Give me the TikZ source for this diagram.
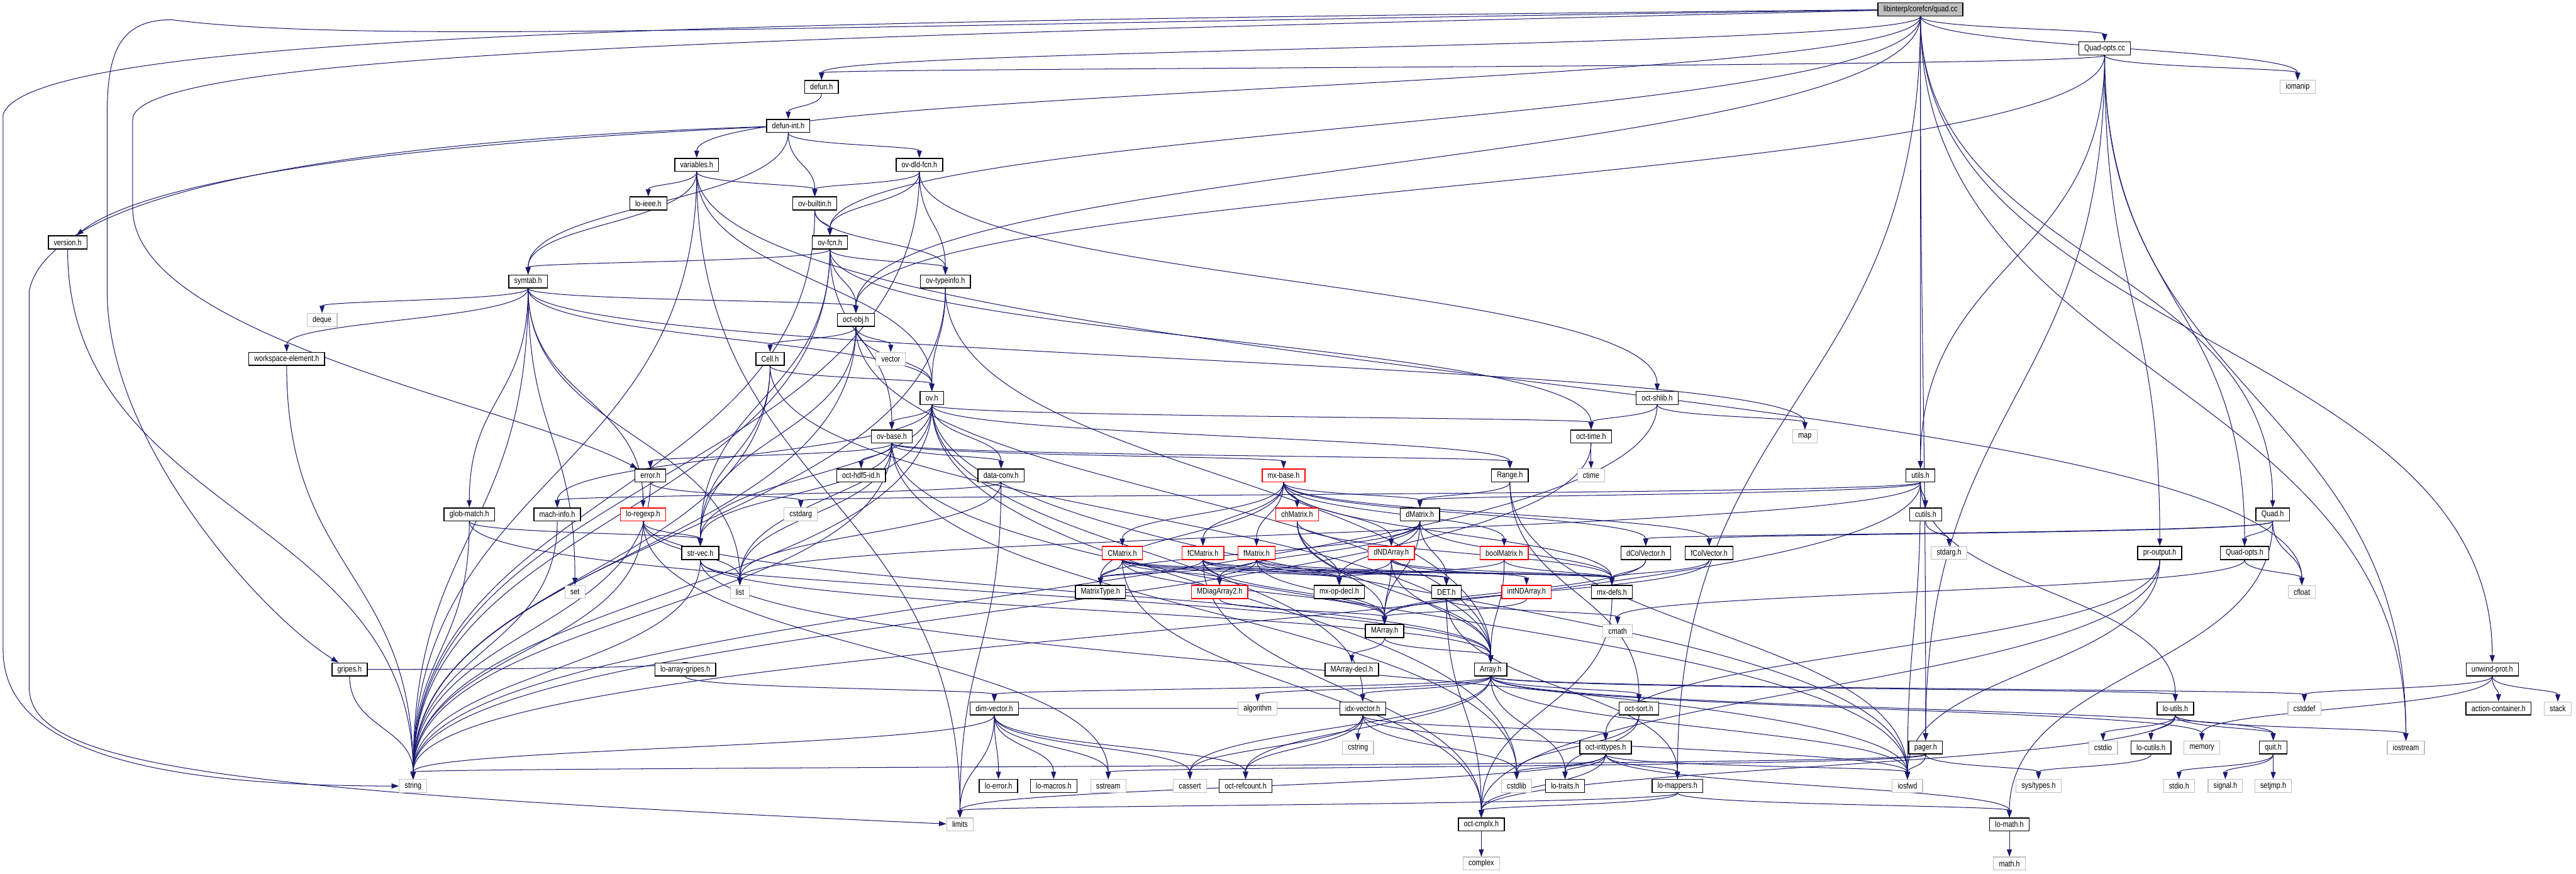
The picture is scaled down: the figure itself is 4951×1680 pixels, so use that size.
\documentclass[tikz,border=0pt]{standalone}
\usepackage{fontspec}
\newfontfamily\graphfont{Liberation Sans}[FakeStretch=0.83]
\usetikzlibrary{arrows.meta,calc}
\definecolor{depblue}{HTML}{191970}
\definecolor{sysgray}{HTML}{BFBFBF}
\pgfdeclarelayer{edges}
\pgfsetlayers{edges,main}

\begin{document}
\begin{tikzpicture}[
        x=0.02cm, y=-0.02cm,
        every node/.style={rectangle, draw=black, fill=white, line width=1pt,
            minimum height=0.5cm, inner xsep=6pt, inner ysep=0pt,
            font=\graphfont\fontsize{9}{10}\selectfont},
        sysfile/.style={draw=sysgray, line width=0.8pt},
        cutfile/.style={draw=red},
        mainfile/.style={fill=sysgray},
        dep/.style={draw=depblue, line width=0.7pt, -{Triangle[length=8pt,width=5.5pt]}},
        every edge/.style={dep,
            to path={let \p1=(\tikztostart), \p2=(\tikztotarget),
                \p3=($(\p1)!0.5!(\p2)$) in
                .. controls (\x1,\y3) and (\x2,\y3) .. (\tikztotarget) \tikztonodes}}
    ]

    % top
    \node[mainfile] (quadcc) at (3691,18) {libinterp/corefcn/quad.cc};
    \node (quadoptscc) at (4045,93) {Quad-opts.cc};
    \node (defun) at (1579,167) {defun.h};
    \node[sysfile] (iomanip) at (4416,167) {iomanip};
    \node (defunint) at (1515,242) {defun-int.h};
    \node (variables) at (1339,317) {variables.h};
    \node (ovdldfcn) at (1767,317) {ov-dld-fcn.h};
    \node (loieee) at (1246,391) {lo-ieee.h};
    \node (ovbuiltin) at (1566,391) {ov-builtin.h};
    \node (version) at (130,466) {version.h};
    \node (ovfcn) at (1595,466) {ov-fcn.h};
    \node (symtab) at (1015,541) {symtab.h};
    \node (ovtypeinfo) at (1817,541) {ov-typeinfo.h};
    \node[sysfile] (deque) at (619,615) {deque};
    \node (octobj) at (1645,615) {oct-obj.h};
    \node (wselement) at (551,690) {workspace-element.h};
    \node (cell) at (1480,690) {Cell.h};
    \node[sysfile] (vector) at (1712,690) {vector};
    \node (ov) at (1791,765) {ov.h};
    \node (octshlib) at (3185,765) {oct-shlib.h};
    \node (ovbase) at (1714,839) {ov-base.h};
    \node (octtime) at (3058,839) {oct-time.h};
    \node[sysfile] (map) at (3469,839) {map};

    % middle
    \node (error) at (1250,914) {error.h};
    \node (hdf5id) at (1655,914) {oct-hdf5-id.h};
    \node (dataconv) at (1924,914) {data-conv.h};
    \node[cutfile] (mxbase) at (2467,914) {mx-base.h};
    \node (range) at (2902,914) {Range.h};
    \node[sysfile] (ctime) at (3058,914) {ctime};
    \node (utils) at (3691,914) {utils.h};
    \node (globmatch) at (902,989) {glob-match.h};
    \node (machinfo) at (1071,989) {mach-info.h};
    \node[cutfile] (loregexp) at (1236,989) {lo-regexp.h};
    \node[sysfile] (cstdarg) at (1539,989) {cstdarg};
    \node[cutfile] (chmatrix) at (2493,989) {chMatrix.h};
    \node (dmatrix) at (2729,989) {dMatrix.h};
    \node (cutils) at (3701,989) {cutils.h};
    \node (quadh) at (4368,989) {Quad.h};
    \node (strvec) at (1346,1063) {str-vec.h};
    \node[cutfile] (cmatrix) at (2157,1063) {CMatrix.h};
    \node[cutfile] (fcmatrix) at (2312,1063) {fCMatrix.h};
    \node[cutfile] (fmatrix) at (2415,1063) {fMatrix.h};
    \node[cutfile] (dndarray) at (2674,1063) {dNDArray.h};
    \node[cutfile] (boolmatrix) at (2891,1063) {boolMatrix.h};
    \node (dcolvector) at (3163,1063) {dColVector.h};
    \node (fcolvector) at (3285,1063) {fColVector.h};
    \node[sysfile] (stdargh) at (3746,1063) {stdarg.h};
    \node (proutput) at (4151,1063) {pr-output.h};
    \node (quadoptsh) at (4314,1063) {Quad-opts.h};
    \node[sysfile] (set) at (1105,1138) {set};
    \node[sysfile] (list) at (1422,1138) {list};
    \node (matrixtype) at (2115,1138) {MatrixType.h};
    \node[cutfile] (mdiagarray) at (2344,1138) {MDiagArray2.h};
    \node (mxopdecl) at (2574,1138) {mx-op-decl.h};
    \node (det) at (2780,1138) {DET.h};
    \node[cutfile] (intndarray) at (2934,1138) {intNDArray.h};
    \node (mxdefs) at (3098,1138) {mx-defs.h};
    \node[sysfile] (cfloat) at (4424,1138) {cfloat};
    \node (marray) at (2661,1213) {MArray.h};
    \node[sysfile] (cmath) at (3109,1213) {cmath};

    % bottom
    \node (gripes) at (672,1287) {gripes.h};
    \node (loarraygripes) at (1317,1287) {lo-array-gripes.h};
    \node (marraydecl) at (2598,1287) {MArray-decl.h};
    \node (array) at (2865,1287) {Array.h};
    \node (unwindprot) at (4790,1287) {unwind-prot.h};
    \node (dimvector) at (1911,1362) {dim-vector.h};
    \node[sysfile] (algorithm) at (2417,1362) {algorithm};
    \node (idxvector) at (2619,1362) {idx-vector.h};
    \node (octsort) at (3150,1362) {oct-sort.h};
    \node (loutils) at (4181,1362) {lo-utils.h};
    \node[sysfile] (cstddef) at (4429,1362) {cstddef};
    \node (actioncontainer) at (4802,1362) {action-container.h};
    \node[sysfile] (stack) at (4916,1362) {stack};
    \node[sysfile] (cstring) at (2610,1437) {cstring};
    \node (octinttypes) at (3086,1437) {oct-inttypes.h};
    \node (pager) at (3701,1437) {pager.h};
    \node[sysfile] (cstdio) at (4042,1437) {cstdio};
    \node (locutils) at (4134,1437) {lo-cutils.h};
    \node[sysfile] (memory) at (4232,1437) {memory};
    \node (quit) at (4369,1437) {quit.h};
    \node[sysfile] (iostream) at (4624,1437) {iostream};
    \node[sysfile] (string) at (794,1511) {string};
    \node (loerror) at (1919,1511) {lo-error.h};
    \node (lomacros) at (2025,1511) {lo-macros.h};
    \node[sysfile] (sstream) at (2130,1511) {sstream};
    \node[sysfile] (cassert) at (2287,1511) {cassert};
    \node (octrefcount) at (2394,1511) {oct-refcount.h};
    \node[sysfile] (cstdlib) at (2915,1511) {cstdlib};
    \node (lotraits) at (3008,1511) {lo-traits.h};
    \node (lomappers) at (3224,1511) {lo-mappers.h};
    \node[sysfile] (iosfwd) at (3666,1511) {iosfwd};
    \node[sysfile] (systypes) at (3918,1511) {sys/types.h};
    \node[sysfile] (stdioh) at (4188,1511) {stdio.h};
    \node[sysfile] (signalh) at (4277,1511) {signal.h};
    \node[sysfile] (setjmph) at (4369,1511) {setjmp.h};
    \node[sysfile] (limits) at (1845,1585) {limits};
    \node (octcmplx) at (2847,1585) {oct-cmplx.h};
    \node (lomath) at (3862,1585) {lo-math.h};
    \node[sysfile] (complex) at (2847,1660) {complex};
    \node[sysfile] (mathh) at (3862,1660) {math.h};

    \begin{pgfonlayer}{edges}
    \fill[white] (0,0) rectangle (4951,1680);
    % long ones round the left margin
    \draw[dep] (quadcc) .. controls (1500,40) and (60,60) .. (6,220) -- (6,1250)
        .. controls (6,1460) and (350,1511) .. (string);
    \draw[dep] (quadcc) .. controls (1500,50) and (700,85) .. (330,38)
        .. controls (230,38) and (206,100) .. (206,220) -- (206,560)
        .. controls (206,850) and (500,1180) .. (gripes);
    \draw[dep] (quadcc) .. controls (1500,70) and (255,100) .. (255,230) -- (255,400)
        .. controls (255,650) and (1000,780) .. (error);
    \draw[dep] (defunint) .. controls (900,262) and (100,330) .. (56,560) -- (56,1320)
        .. controls (56,1470) and (400,1520) .. (limits);
    \draw[dep] (defunint) .. controls (900,270) and (300,330) .. (version);
    % includes, one path per file
    \path (quadcc) edge (quadoptscc) edge (iomanip) edge (iostream) edge (unwindprot)
        edge (quadh) edge (utils) edge (pager) edge (lomappers) edge (defun)
        edge (variables) edge (ovfcn) edge (octobj);
    \path (quadoptscc) edge (iomanip) edge (iostream) edge (quadoptsh) edge (defun)
        edge (proutput) edge (octobj) edge (utils) edge (pager);
    \path (defun) edge (defunint);
    \path (defunint) edge (ovbuiltin) edge (ovdldfcn) edge (symtab);
    \path (variables) edge (string) edge (limits) edge (loieee) edge (ov) edge (ovbuiltin)
        edge (symtab) edge (cfloat);
    \path (ovdldfcn) edge (string) edge (octshlib) edge (ovfcn) edge (ovbuiltin) edge (ovtypeinfo);
    \path (ovbuiltin) edge (string) edge (ovfcn) edge (ovtypeinfo);
    \path (version) edge (string);
    \path (ovfcn) edge (string) edge (octtime) edge (strvec) edge (octobj) edge (ovbase)
        edge (ovtypeinfo) edge (symtab);
    \path (ovtypeinfo) edge (string) edge (array) edge (ov);
    \path (symtab) edge (deque) edge (list) edge (map) edge (set) edge (string) edge (globmatch)
        edge (loregexp) edge (octobj) edge (ov) edge (wselement);
    \path (octobj) edge (string) edge (vector) edge (array) edge (strvec) edge (ov) edge (cell);
    \path (wselement) edge (string);
    \path (cell) edge (string) edge (array) edge (strvec) edge (ov);
    \path (ov) edge (ovbase) edge (strvec) edge (string) edge (list) edge (range) edge (dataconv)
        edge (idxvector) edge (machinfo) edge (octtime) edge (iosfwd) edge (cstdlib);
    \path (octshlib) edge (octtime) edge (map) edge (string);
    \path (ovbase) edge (cstdlib) edge (iosfwd) edge (list) edge (string) edge (range)
        edge (dataconv) edge (mxbase) edge (strvec) edge (error) edge (hdf5id);
    \path (octtime) edge (ctime) edge (string);
    \path (error) edge (cstdarg) edge (string);
    \path (dataconv) edge (limits) edge (list) edge (machinfo);
    \path (mxbase) edge (matrixtype) edge (cmatrix) edge (fcmatrix) edge (fmatrix) edge (chmatrix)
        edge (dmatrix) edge (dndarray) edge (boolmatrix) edge (dcolvector) edge (fcolvector) edge (mxdefs);
    \path (range) edge (iosfwd) edge (dmatrix) edge (octsort);
    \path (utils) edge (cstdarg) edge (iosfwd) edge (string) edge (list) edge (loutils)
        edge (cutils) edge (dmatrix);
    \path (globmatch) edge (string) edge (array) edge (strvec);
    \path (machinfo) edge (string);
    \path (loregexp) edge (list) edge (sstream) edge (string) edge (array) edge (strvec);
    \path (chmatrix) edge (mxopdecl) edge (marray) edge (mxdefs) edge (array);
    \path (dmatrix) edge (dndarray) edge (mxopdecl) edge (marray) edge (det) edge (mxdefs)
        edge (matrixtype) edge (mdiagarray);
    \path (cutils) edge (stdargh);
    \path (quadh) edge (dcolvector) edge (fcolvector) edge (cfloat) edge (lomath) edge (quadoptsh);
    \path (strvec) edge (iosfwd) edge (list) edge (string) edge (array);
    \path (cmatrix) edge (matrixtype) edge (mdiagarray) edge (mxopdecl) edge (det) edge (mxdefs)
        edge (octcmplx) edge (marray);
    \path (fcmatrix) edge (matrixtype) edge (mdiagarray) edge (mxopdecl) edge (det) edge (mxdefs)
        edge (octcmplx) edge (marray);
    \path (fmatrix) edge (matrixtype) edge (mdiagarray) edge (mxopdecl) edge (det) edge (mxdefs)
        edge (marray);
    \path (dndarray) edge (marray) edge (mxopdecl) edge (mxdefs) edge (intndarray) edge (array);
    \path (boolmatrix) edge (mxopdecl) edge (array) edge (mxdefs);
    \path (dcolvector) edge (marray) edge (mxdefs);
    \path (fcolvector) edge (marray) edge (mxdefs);
    \path (proutput) edge (iosfwd) edge (octcmplx) edge (octinttypes);
    \path (quadoptsh) edge (cfloat) edge (cmath);
    \path (mdiagarray) edge (marray);
    \path (det) edge (cmath) edge (octcmplx) edge (lomappers);
    \path (intndarray) edge (marray);
    \path (mxdefs) edge (octcmplx);
    \path (marray) edge (array) edge (marraydecl);
    \path (gripes) edge (string) edge (loarraygripes);
    \path (loarraygripes) edge (dimvector);
    \path (array) edge (cassert) edge (cstddef) edge (algorithm) edge (iosfwd) edge (dimvector)
        edge (idxvector) edge (lotraits) edge (loutils) edge (octsort) edge (quit)
        edge (octrefcount) edge (memory);
    \path (unwindprot) edge (cstddef) edge (stack) edge (memory) edge (actioncontainer);
    \path (idxvector) edge (cstring) edge (algorithm) edge (cassert) edge (iosfwd) edge (dimvector)
        edge (octinttypes) edge (octrefcount) edge (cstdlib);
    \path (dimvector) edge (cassert) edge (limits) edge (sstream) edge (string) edge (loerror)
        edge (lomacros) edge (octrefcount);
    \path (octsort) edge (lotraits) edge (cstdlib);
    \path (loutils) edge (cstdio) edge (iostream) edge (locutils) edge (quit) edge (octcmplx);
    \path (octinttypes) edge (cstdlib) edge (limits) edge (iosfwd) edge (lotraits) edge (lomath)
        edge (lomappers) edge (octcmplx);
    \path (pager) edge (iosfwd) edge (sstream) edge (string) edge (systypes);
    \path (locutils) edge (systypes);
    \path (quit) edge (stdioh) edge (signalh) edge (setjmph);
    \path (lomappers) edge (limits) edge (octcmplx) edge (lomath);
    \path (octcmplx) edge (complex);
    \path (lomath) edge (mathh);
    \end{pgfonlayer}

    \useasboundingbox (0,0) rectangle (4951,1680);
\end{tikzpicture}
\end{document}
